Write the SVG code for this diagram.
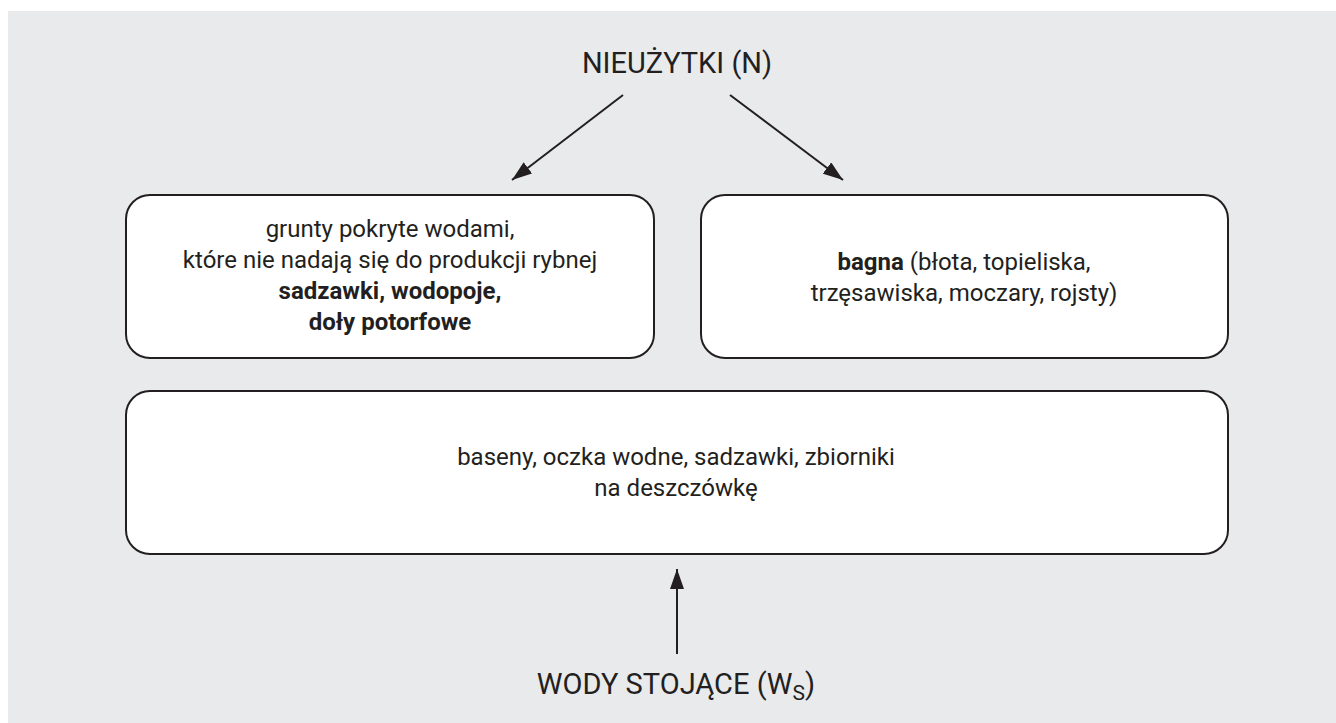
<svg xmlns="http://www.w3.org/2000/svg" width="1336" height="723" viewBox="0 0 1336 723">
<defs>
<style>
.bg{fill:#ffffff}
.panel{fill:#e9eaec}
.box{fill:#ffffff;stroke:#231f20;stroke-width:2}
.t{font-family:Roboto,"Liberation Sans",sans-serif;fill:#231f20;text-anchor:middle}
.body{font-size:24px}
.title{font-size:29px}
.b{font-weight:bold}
.conn{stroke:#231f20;stroke-width:2;fill:none}
</style>
<marker id="ah" viewBox="0 0 20 14" refX="20" refY="7" markerWidth="20" markerHeight="14" markerUnits="userSpaceOnUse" orient="auto">
<path d="M0,0 L20,7 L0,14 Z" fill="#231f20"/>
</marker>
</defs>
<rect class="bg" x="0" y="0" width="1336" height="723"/>
<rect class="panel" x="8" y="11" width="1328" height="712"/>
<g id="title-n">
<text class="t title" x="677" y="73">NIEUŻYTKI (N)</text>
</g>
<g id="node-grunty">
<rect class="box" x="126" y="195" width="528" height="163" rx="24"/>
<text class="t body" x="390" y="237">grunty pokryte wodami,</text>
<text class="t body" x="390" y="268">które nie nadają się do produkcji rybnej</text>
<text class="t body b" x="390" y="299">sadzawki, wodopoje,</text>
<text class="t body b" x="390" y="330">doły potorfowe</text>
</g>
<g id="node-bagna">
<rect class="box" x="701" y="195" width="527" height="163" rx="24"/>
<text class="t body" x="964" y="270"><tspan class="b">bagna</tspan> (błota, topieliska,</text>
<text class="t body" x="964" y="301">trzęsawiska, moczary, rojsty)</text>
</g>
<g id="node-baseny">
<rect class="box" x="126" y="391" width="1102" height="163" rx="24"/>
<text class="t body" x="676" y="465">baseny, oczka wodne, sadzawki, zbiorniki</text>
<text class="t body" x="676" y="496">na deszczówkę</text>
</g>
<g id="title-ws">
<text class="t title" x="676" y="694">WODY STOJĄCE (W<tspan font-size="21" dy="6">S</tspan><tspan dy="-6">)</tspan></text>
</g>
<g id="connectors">
<line class="conn" x1="623" y1="95" x2="512" y2="180" marker-end="url(#ah)"/>
<line class="conn" x1="730" y1="95" x2="843" y2="180" marker-end="url(#ah)"/>
<line class="conn" x1="677" y1="654" x2="677" y2="569" marker-end="url(#ah)"/>
</g>
</svg>
